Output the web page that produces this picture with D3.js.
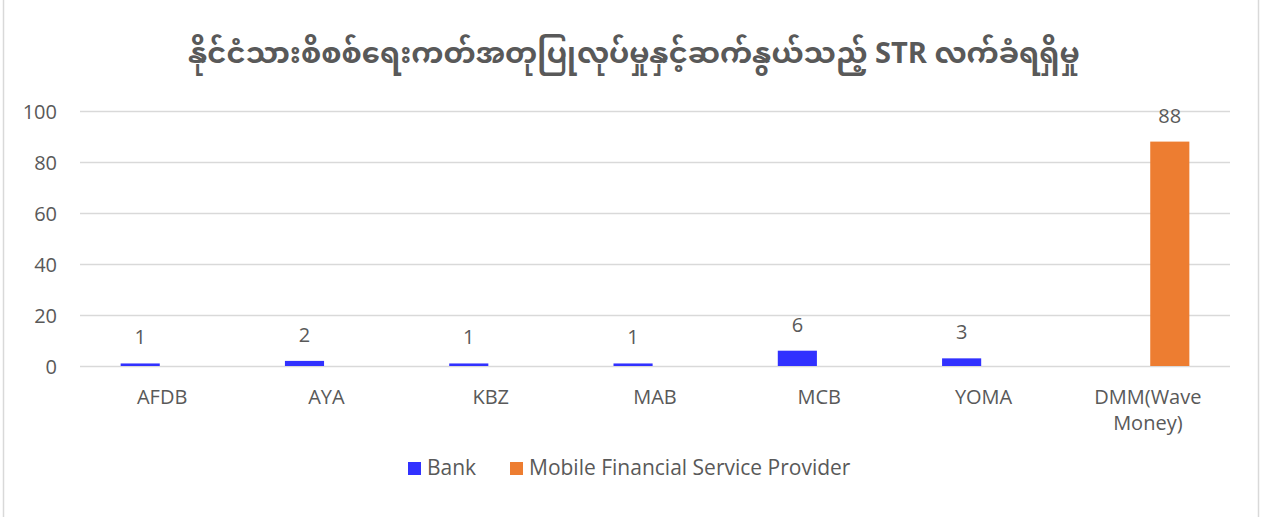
<!DOCTYPE html>
<html><head><meta charset="utf-8">
<script src="https://cdn.jsdelivr.net/npm/d3@7"></script>
<style>
html,body{margin:0;padding:0;background:#fff;}
svg{display:block;}
text{font-family:"Open Sans","Noto Sans",sans-serif;fill:#595959;}
.title{font-family:"Noto Sans Myanmar","Padauk","Myanmar Text","Noto Sans",sans-serif;font-weight:bold;}
</style></head>
<body>
<script>
const title = "နိုင်ငံသားစိစစ်ရေးကတ်အတုပြုလုပ်မှုနှင့်ဆက်နွယ်သည့် STR လက်ခံရရှိမှု";
const categories = ["AFDB","AYA","KBZ","MAB","MCB","YOMA","DMM(Wave Money)"];
const categoryLines = [["AFDB"],["AYA"],["KBZ"],["MAB"],["MCB"],["YOMA"],["DMM(Wave","Money)"]];
const seriesNames = ["Bank","Mobile Financial Service Provider"];
const bankValues = [1,2,1,1,6,3,null];
const mfspValues = [null,null,null,null,null,null,88];
const yTicks = [0,20,40,60,80,100];
const colors = ["#3131FF","#ED7D31"];

const W=1267,H=517;
const svg=d3.select("body").append("svg").attr("width",W).attr("height",H);
svg.append("rect").attr("x",3.5).attr("y",-1).attr("width",1255).attr("height",H+2)
  .attr("fill","#fff").attr("stroke","#d9d9d9").attr("stroke-width",1.5);

svg.append("text").attr("class","title").attr("x",634).attr("y",63)
  .attr("text-anchor","middle").attr("font-size",29).text(title);

const x=d3.scaleBand().domain(categories).range([80,1230]).padding(0);
const y=d3.scaleLinear().domain([0,100]).range([366,111]);
const inner=d3.scaleBand().domain(seriesNames).range([x.bandwidth()/2-41.5,x.bandwidth()/2+41.5]).paddingInner(9/83);

const fs=20;
const yAxis=d3.axisLeft(y).tickValues(yTicks).tickSize(0).tickPadding(0);
const gy=svg.append("g").attr("transform","translate(57,0)").call(yAxis);
gy.select(".domain").remove();
gy.selectAll("text").attr("font-size",fs).attr("fill","#595959").attr("dy","0.35em")
  .style("font-family","'Open Sans','Noto Sans',sans-serif");

svg.append("g").selectAll("line").data(yTicks).join("line")
  .attr("x1",80).attr("x2",1230).attr("y1",d=>Math.round(y(d))+0.5).attr("y2",d=>Math.round(y(d))+0.5)
  .attr("stroke","#d9d9d9").attr("stroke-width",1.5);

const series=[bankValues,mfspValues];
series.forEach((vals,si)=>{
  const data=categories.map((c,i)=>({c,v:vals[i]})).filter(d=>d.v!=null);
  svg.append("g").selectAll("rect").data(data).join("rect")
    .attr("x",d=>x(d.c)+inner(seriesNames[si])).attr("width",inner.bandwidth())
    .attr("y",d=>y(d.v)).attr("height",d=>y(0)-y(d.v)).attr("fill",colors[si]);
  svg.append("g").selectAll("text").data(data).join("text")
    .attr("x",d=>x(d.c)+inner(seriesNames[si])+inner.bandwidth()/2)
    .attr("y",d=>y(d.v)-19).attr("text-anchor","middle").attr("font-size",fs)
    .attr("fill","#404040").text(d=>d.v);
});

const gx=svg.append("g");
categories.forEach((c,i)=>{
  const t=gx.append("text").attr("x",x(c)+x.bandwidth()/2).attr("y",404)
    .attr("text-anchor","middle").attr("font-size",fs);
  categoryLines[i].forEach((ln,j)=>t.append("tspan").attr("x",x(c)+x.bandwidth()/2).attr("dy",j?26:0).text(ln));
});

const lg=svg.append("g");
const legendX=[408,510];
seriesNames.forEach((n,i)=>{
  lg.append("rect").attr("x",legendX[i]).attr("y",462).attr("width",13).attr("height",13).attr("fill",colors[i]);
  lg.append("text").attr("x",legendX[i]+19).attr("y",475).attr("font-size",21).text(n);
});
</script>
</body></html>
